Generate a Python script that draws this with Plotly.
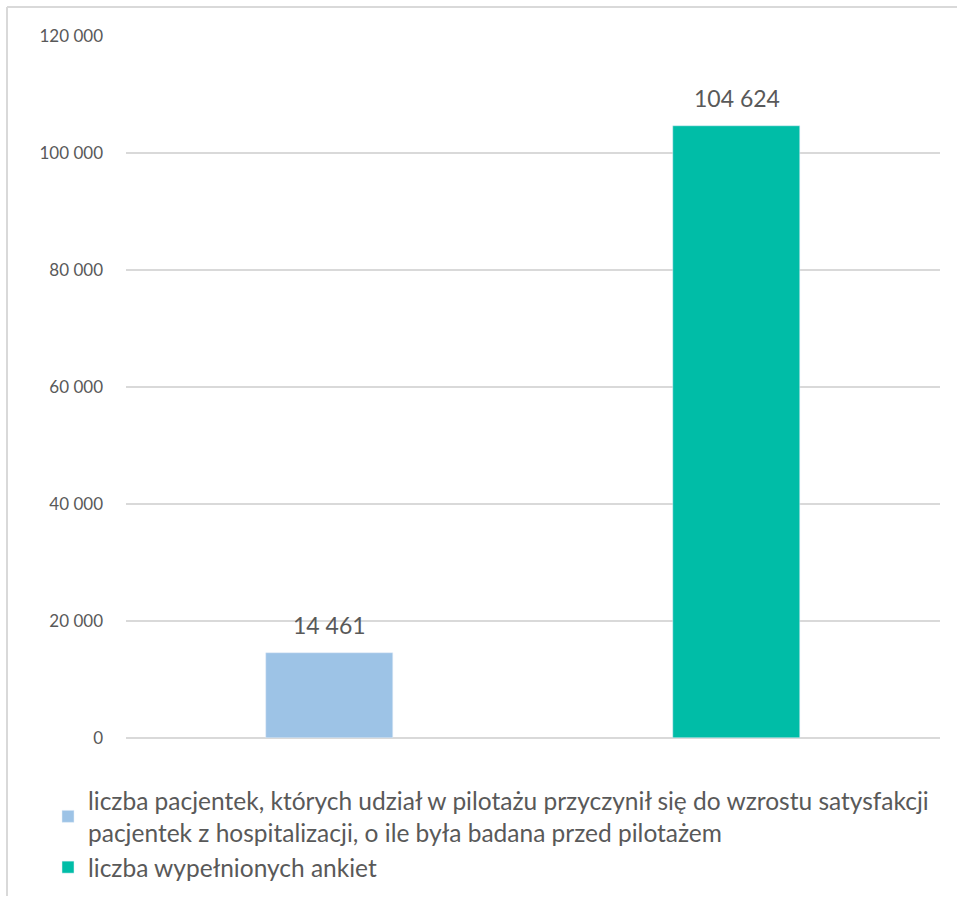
import plotly.graph_objects as go

categories = ["A", "B"]
series_names = [
    "liczba pacjentek, których udział w pilotażu przyczynił się do wzrostu satysfakcji<br>pacjentek z hospitalizacji, o ile była badana przed pilotażem",
    "liczba wypełnionych ankiet",
]
values = [14461, 104624]
colors = ["#9DC3E6", "#00BDA7"]
label_texts = ["14 461", "104 624"]
tick_vals = [0, 20000, 40000, 60000, 80000, 100000, 120000]
tick_text = ["0", "20 000", "40 000", "60 000", "80 000", "100 000", "120 000"]

FONT = "Lato"
GREY = "#595959"

fig = go.Figure()
for cat, name, val, col in zip(categories, series_names, values, colors):
    fig.add_trace(go.Bar(x=[cat], y=[val], name=name, marker_color=col,
                         width=0.31, hoverinfo="skip"))

for cat, val, txt in zip(categories, values, label_texts):
    fig.add_annotation(x=cat, y=val, text=txt, showarrow=False, yanchor="bottom",
                       yshift=12, font=dict(family=FONT, size=23, color=GREY))

L, R, T, B = 126, 17, 36, 161
W, H = 957, 899
pw, ph = W - L - R, H - T - B

def px_x(x):
    return (x - L) / pw

def px_y(y):
    return (H - B - y) / ph

fig.add_shape(type="line", xref="paper", yref="paper", x0=px_x(7), x1=px_x(957),
              y0=px_y(7), y1=px_y(7), line=dict(color="#d9d9d9", width=2))
fig.add_shape(type="line", xref="paper", yref="paper", x0=px_x(7), x1=px_x(7),
              y0=px_y(7), y1=px_y(896), line=dict(color="#d9d9d9", width=2))

fig.update_layout(
    width=W, height=H,
    margin=dict(l=L, r=R, t=T, b=B, autoexpand=False),
    paper_bgcolor="white", plot_bgcolor="white",
    barmode="overlay",
    bargap=0,
    font=dict(family=FONT, color=GREY),
    xaxis=dict(showticklabels=False, showgrid=False, zeroline=False, showline=False,
               categoryorder="array", categoryarray=categories, fixedrange=True),
    yaxis=dict(range=[0, 120000], tickvals=tick_vals, ticktext=tick_text,
               showgrid=True, gridcolor="#d9d9d9", gridwidth=1.5,
               zeroline=True, zerolinecolor="#d9d9d9", zerolinewidth=1.5,
               showline=False, ticks="", ticklabelstandoff=22,
               tickfont=dict(family=FONT, size=17, color=GREY)),
    legend=dict(x=px_x(48), xanchor="left", y=px_y(778), yanchor="top",
                orientation="v", font=dict(family=FONT, size=24.5, color=GREY),
                tracegroupgap=0, itemwidth=30, bgcolor="rgba(0,0,0,0)"),
    showlegend=True,
)

fig.write_html("out.html")
